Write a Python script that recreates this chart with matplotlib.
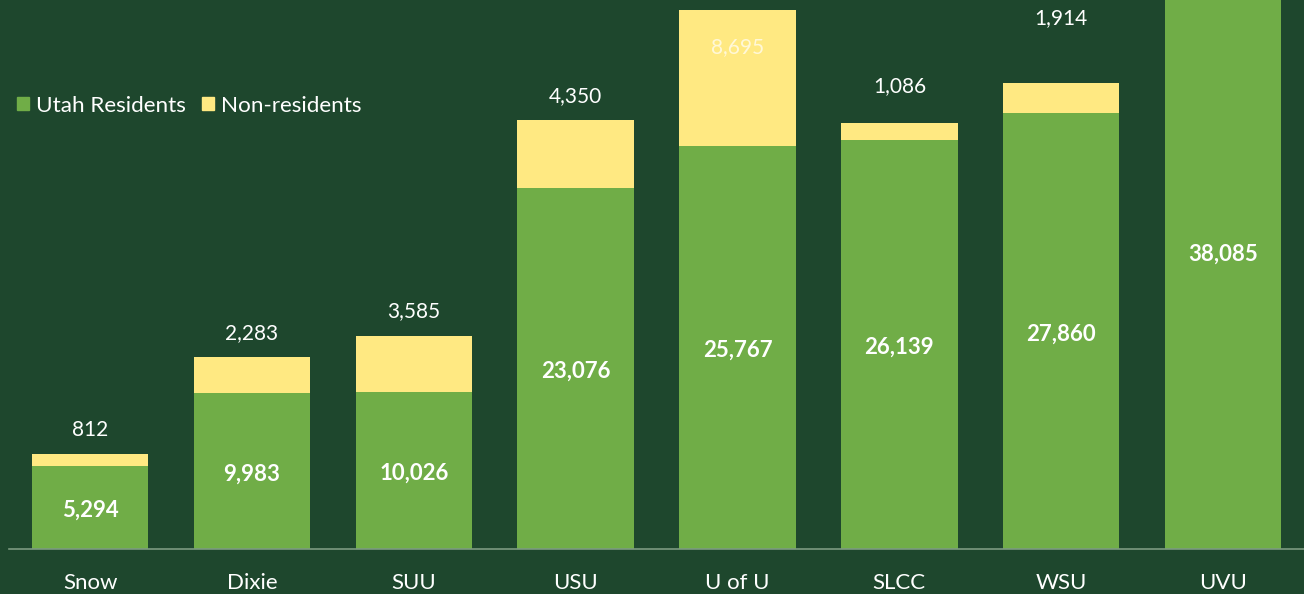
import matplotlib
matplotlib.use("Agg")
import matplotlib.pyplot as plt
from matplotlib.patches import Patch

categories = ["Snow", "Dixie", "SUU", "USU", "U of U", "SLCC", "WSU", "UVU"]
residents = [5294, 9983, 10026, 23076, 25767, 26139, 27860, 38085]
nonresidents = [812, 2283, 3585, 4350, 8695, 1086, 1914, 1500]

# label placement styles (points above bar top; None = inside end)
nonres_offsets = [17, 17, 18, 17, None, 27, 47, 17]

BG = "#1e472d"
GREEN = "#70ad47"
YELLOW = "#ffe982"
FONT = ["Lato", "DejaVu Sans"]

fig = plt.figure(figsize=(13.04, 5.94), dpi=100, facecolor=BG)
ax = fig.add_axes([0.007, 0.0757, 0.993, 0.9243])
ax.set_facecolor(BG)

x = list(range(len(categories)))
w = 0.72
ax.bar(x, residents, width=w, color=GREEN, label="Utah Residents", zorder=2)
ax.bar(x, nonresidents, width=w, bottom=residents, color=YELLOW,
       label="Non-residents", zorder=2)

ax.set_xlim(-0.5, 7.5)
ax.set_ylim(0, 35100)

for i, (r, n) in enumerate(zip(residents, nonresidents)):
    ax.annotate(f"{r:,}", (i, r / 2), xytext=(0, -2), textcoords="offset points",
                ha="center", va="center", color="white",
                fontsize=16, fontweight="bold", family=FONT, zorder=3,
                annotation_clip=True)
    off = nonres_offsets[i]
    if off is None:
        ax.annotate(f"{n:,}", (i, r + n), xytext=(0, -27), textcoords="offset points",
                    ha="center", va="center", color="#fff8d8", fontsize=15,
                    family=FONT, zorder=3, annotation_clip=True)
    else:
        ax.annotate(f"{n:,}", (i, r + n), xytext=(0, off), textcoords="offset points",
                    ha="center", va="center", color="white", fontsize=15,
                    family=FONT, zorder=3, annotation_clip=True)

for s in ["top", "right", "left"]:
    ax.spines[s].set_visible(False)
ax.spines["bottom"].set_color("#7c9a80")
ax.spines["bottom"].set_linewidth(1.2)
ax.set_yticks([])
ax.set_xticks(x)
ax.set_xticklabels(categories, color="white", fontsize=16, family=FONT)
ax.tick_params(axis="x", length=0, pad=17)

handles = [Patch(color=GREEN), Patch(color=YELLOW)]
leg = ax.legend(handles, ["Utah Residents", "Non-residents"], loc="upper left",
                bbox_to_anchor=(0.006, 0.826), ncol=2, frameon=False, borderpad=0,
                borderaxespad=0, handlelength=0.55, handleheight=0.55,
                handletextpad=0.3, columnspacing=0.7,
                prop={"family": FONT, "size": 16.2})
for t in leg.get_texts():
    t.set_color("white")

fig.savefig("out.png", dpi=100, facecolor=BG)
